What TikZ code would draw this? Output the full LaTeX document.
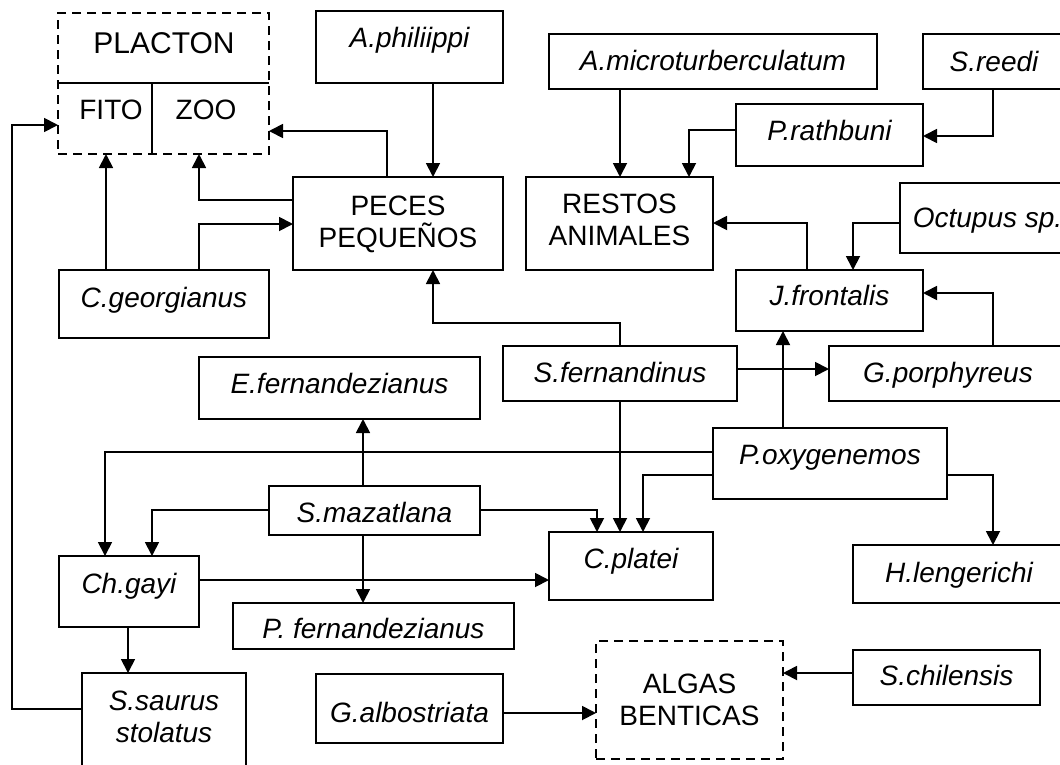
\documentclass[tikz,border=0pt]{standalone}
\usepackage{fontspec}
\setmainfont{Liberation Sans}
\usetikzlibrary{arrows.meta}
\newcommand{\boxfont}{\fontsize{28pt}{32pt}\selectfont}
\newcommand{\placfont}{\fontsize{30pt}{34pt}\selectfont}
\tikzset{
    spbox/.style={draw,line width=1.8pt,inner sep=0pt,outer sep=0pt,anchor=north west,align=center,font=\boxfont\itshape},
    grpbox/.style={spbox,font=\boxfont},
    dashbox/.style={grpbox,dash pattern=on 9pt off 6pt},
    myarrow/.style={-{Triangle[length=14pt,width=14pt]},line width=1.8pt}
}

\begin{document}
\begin{tikzpicture}[x=1pt,y=-1pt]
  \useasboundingbox (0,0) rectangle (1060,764);
  \clip (0,0) rectangle (1060,764);

  % plancton
  \node[dashbox, minimum width=211pt, minimum height=141pt] (plancton) at (58,13) {};
  \draw[line width=1.8pt] (plancton.west |- 0,83) -- (plancton.east |- 0,83);
  \draw[line width=1.8pt] (152,83) -- (plancton.south -| 152,0);
  \node[font=\placfont, anchor=base] (plact) at (164,53) {PLACTON};
  \node[font=\boxfont, anchor=base] (fito) at (111,119) {FITO};
  \node[font=\boxfont, anchor=base] (zoo) at (206,119) {ZOO};

  % species
  \node[spbox, minimum width=187pt, text height=36pt, text depth=36pt] (aphil) at (316,11) {A.philiippi};
  \node[spbox, minimum width=328pt, text height=36pt, text depth=19pt] (amicro) at (549,34) {A.microturberculatum};
  \node[spbox, minimum width=142pt, text height=37pt, text depth=18pt] (sreedi) at (923,34) {S.reedi};
  \node[spbox, minimum width=187pt, text height=36pt, text depth=26pt] (prath) at (736,104) {P.rathbuni};
  \node[grpbox, minimum width=187pt, text height=68pt, text depth=25pt] (restos) at (526,177) {RESTOS\\ANIMALES};
  \node[grpbox, minimum width=210pt, text height=70pt, text depth=23pt] (peces) at (293,177) {PECES\\PEQUEÑOS};
  \node[spbox, minimum width=175pt, text height=44pt, text depth=26pt] (octupus) at (900,183) {Octupus sp.};
  \node[spbox, minimum width=187pt, text height=35pt, text depth=26pt] (jfront) at (736,270) {J.frontalis};
  \node[spbox, minimum width=210pt, text height=37pt, text depth=31pt] (cgeo) at (59,270) {C.georgianus};
  \node[spbox, minimum width=281pt, text height=36pt, text depth=26pt] (efern) at (199,357) {E.fernandezianus};
  \node[spbox, minimum width=234pt, text height=36pt, text depth=19pt] (sfern) at (503,346) {S.fernandinus};
  \node[spbox, minimum width=238pt, text height=36pt, text depth=19pt] (gporph) at (829,346) {G.porphyreus};
  \node[spbox, minimum width=234pt, text height=36pt, text depth=35pt] (poxy) at (713,428) {P.oxygenemos};
  \node[spbox, minimum width=211pt, text height=36pt, text depth=13pt] (smaz) at (269,486) {S.mazatlana};
  \node[spbox, minimum width=140pt, text height=37pt, text depth=34pt] (chgayi) at (59,556) {Ch.gayi};
  \node[spbox, minimum width=164pt, text height=36pt, text depth=32pt] (cplatei) at (549,532) {C.platei};
  \node[spbox, minimum width=212pt, text height=37pt, text depth=21pt] (hleng) at (853,545) {H.lengerichi};
  \node[spbox, minimum width=281pt, text height=35pt, text depth=11pt] (pfern) at (233,603) {P. fernandezianus};
  \node[spbox, minimum width=164pt, text height=69pt, text depth=38pt] (ssaurus) at (82,673) {S.saurus\\stolatus};
  \node[spbox, minimum width=187pt, text height=48pt, text depth=21pt] (galb) at (316,674) {G.albostriata};
  \node[dashbox, minimum width=187pt, text height=84pt, text depth=34pt] (algas) at (596,641) {ALGAS\\BENTICAS};
  \node[spbox, minimum width=187pt, text height=35pt, text depth=20pt] (schil) at (853,650) {S.chilensis};

  % arrows to plancton
  \draw[myarrow] (ssaurus.west |- 0,709) -| (12,125) -- (plancton.west |- 0,125);
  \draw[myarrow] (cgeo.north -| 106,0) -- (plancton.south -| 106,0);
  \draw[myarrow] (peces.west |- 0,200) -| (plancton.south -| 199,0);
  \draw[myarrow] (peces.north -| 387,0) |- (plancton.east |- 0,131);

  % arrows to peces and restos
  \draw[myarrow] (cgeo.north -| 199,0) |- (peces.west |- 0,224);
  \draw[myarrow] (aphil.south -| 433,0) -- (peces.north -| 433,0);
  \draw[myarrow] (sfern.north) |- (433,323) -- (peces.south -| 433,0);
  \draw[myarrow] (amicro.south -| 620,0) -- (restos.north -| 620,0);
  \draw[myarrow] (prath.west |- 0,130) -| (restos.north -| 689,0);
  \draw[myarrow] (sreedi.south -| 993,0) |- (prath.east |- 0,136);
  \draw[myarrow] (jfront.north -| 807,0) |- (restos.east |- 0,223);

  % j.frontalis
  \draw[myarrow] (octupus.west |- 0,223) -| (jfront.north -| 853,0);
  \draw[myarrow] (gporph.north -| 993,0) |- (jfront.east |- 0,293);
  \draw[myarrow] (poxy.north -| 783,0) -- (jfront.south -| 783,0);
  \draw[myarrow] (sfern.east |- 0,369) -- (gporph.west |- 0,369);

  % lower part
  \draw[myarrow] (sfern.south) -- (cplatei.north -| 620,0);
  \draw[myarrow] (poxy.west |- 0,452) -| (chgayi.north -| 105,0);
  \draw[myarrow] (poxy.west |- 0,475) -| (cplatei.north -| 643,0);
  \draw[myarrow] (poxy.east |- 0,475) -| (hleng.north -| 993,0);
  \draw[myarrow] (smaz.north -| 363,0) -- (efern.south -| 363,0);
  \draw[myarrow] (smaz.south -| 363,0) -- (pfern.north -| 363,0);
  \draw[myarrow] (smaz.west |- 0,510) -| (chgayi.north -| 152,0);
  \draw[myarrow] (smaz.east |- 0,510) -| (cplatei.north -| 597,0);
  \draw[myarrow] (chgayi.east |- 0,580) -- (cplatei.west |- 0,580);
  \draw[myarrow] (chgayi.south -| 128,0) -- (ssaurus.north -| 128,0);
  \draw[myarrow] (galb.east |- 0,713) -- (algas.west |- 0,713);
  \draw[myarrow] (schil.west |- 0,673) -- (algas.east |- 0,673);
\end{tikzpicture}
\end{document}
